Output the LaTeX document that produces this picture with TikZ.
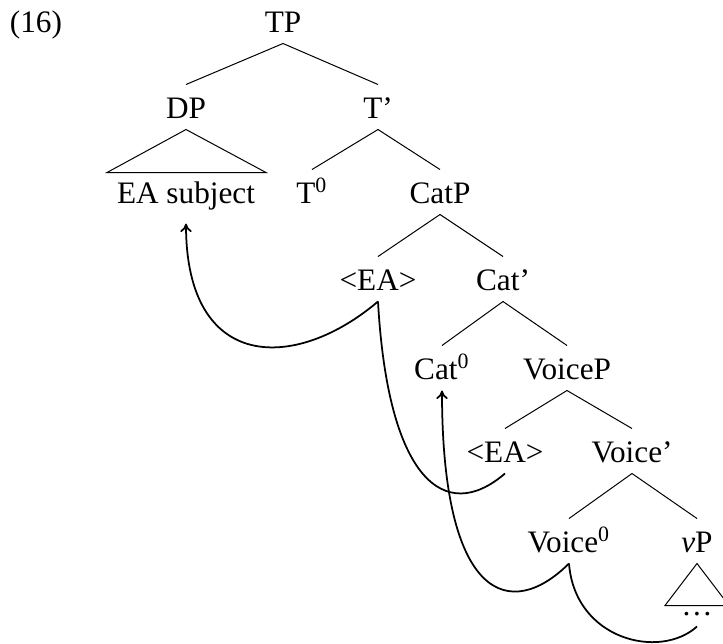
\documentclass[tikz,border=0pt]{standalone}
\usepackage{fontspec}
\setmainfont{Liberation Serif}
\usetikzlibrary{arrows.meta}
\begin{document}
\begin{tikzpicture}[x=0.4pt,y=-0.4pt,
  lab/.style={anchor=base,font=\fontsize{12.5}{15}\selectfont,text height=11.8pt,text depth=3pt,inner ysep=1.4pt,inner xsep=0pt},
  br/.style={line width=0.4pt},
  mv/.style={line width=0.7pt},
  mvarr/.style={mv,-{To[length=3.4pt,width=4.6pt]}}]
\useasboundingbox (0,0) rectangle (723,643);
% nodes
\node[lab] (ex) at (36,32) {(16)};
\node[lab] (tp) at (283,32) {TP};
\node[lab] (dp) at (186,118) {DP};
\node[lab] (tbar) at (378,118) {T'};
\node[lab] (subj) at (186,203) {EA subject};
\node[lab] (t0) at (312,203) {T\textsuperscript{0}};
\node[lab] (catp) at (440,203) {CatP};
\node[lab] (ea1) at (378,290) {<EA>};
\node[lab] (catbar) at (503,290) {Cat'};
\node[lab] (cat0) at (442,379) {Cat\textsuperscript{0}};
\node[lab] (voicep) at (567,379) {VoiceP};
\node[lab] (ea2) at (505,462) {<EA>};
\node[lab] (voicebar) at (632,462) {Voice'};
\node[lab] (voice0) at (569,552) {Voice\textsuperscript{0}};
\node[lab] (vp) at (697,552) {\textit{v}P};
\node[lab] (dots) at (697,615) {\dots};
% branches
\draw[br] (tp.south) -- (dp.north);
\draw[br] (tp.south) -- (tbar.north);
\draw[br] (dp.south) -- ++(-79,43) -- ++(159,0) -- cycle;
\draw[br] (tbar.south) -- (t0.north);
\draw[br] (tbar.south) -- (catp.north);
\draw[br] (catp.south) -- (ea1.north);
\draw[br] (catp.south) -- (catbar.north);
\draw[br] (catbar.south) -- (cat0.north);
\draw[br] (catbar.south) -- (voicep.north);
\draw[br] (voicep.south) -- (ea2.north);
\draw[br] (voicep.south) -- (voicebar.north);
\draw[br] (voicebar.south) -- (voice0.north);
\draw[br] (voicebar.south) -- (vp.north);
\draw[br] (vp.south) -- ++(-32,42) -- ++(64,0) -- cycle;
% movement curves
\draw[mvarr] (ea1.south) .. controls (295,372) and (186,372) .. ([yshift=-3.6pt]subj.south);
\draw[mv] (ea1.south) .. controls (388,480) and (445,525) .. (ea2.south);
\draw[mvarr] (voice0.south) .. controls (510,622) and (442,600) .. (cat0.south);
\draw[mv] (voice0.south) .. controls (575,640) and (660,660) .. (dots.south);
\end{tikzpicture}
\end{document}
